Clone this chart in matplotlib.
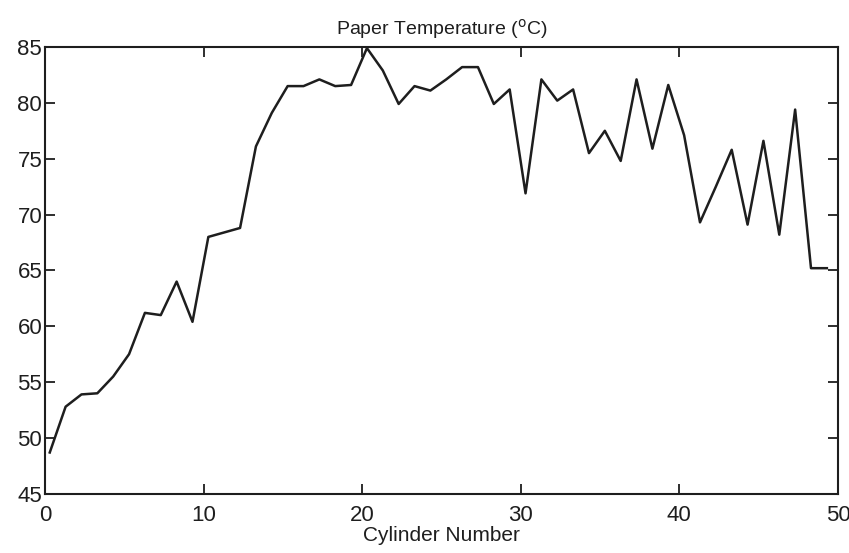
import matplotlib.pyplot as plt
import numpy as np

# paper temperature along the dryer section
cylinder = np.arange(50) + 0.3
temperature = [48.7, 52.8, 53.9, 54.0, 55.5, 57.5, 61.2, 61.0, 64.0, 60.4,
               68.0, 68.4, 68.8, 76.1, 79.1, 81.5, 81.5, 82.1, 81.5, 81.6,
               84.9, 82.9, 79.9, 81.5, 81.1, 82.1, 83.2, 83.2, 79.9, 81.2,
               71.9, 82.1, 80.2, 81.2, 75.5, 77.5, 74.8, 82.1, 75.9, 81.6,
               77.1, 69.3, 72.5, 75.8, 69.1, 76.6, 68.2, 79.4, 65.2, 65.2]
xticks = [0, 10, 20, 30, 40, 50]
yticks = [45, 50, 55, 60, 65, 70, 75, 80, 85]

plt.rcParams["font.family"] = ["Liberation Sans", "DejaVu Sans"]
my_dpi = 100
ink = "#1e1e1e"

fig = plt.figure(figsize=(849/my_dpi, 553/my_dpi), dpi=my_dpi)
ax = fig.add_axes([0.053, 0.107, 0.934, 0.808])
ax.plot(cylinder, temperature, color=ink, linewidth=1.8)

ax.set_xlim(0, 50)
ax.set_ylim(45, 85)
ax.set_xticks(xticks)
ax.set_yticks(yticks)
ax.tick_params(direction="in", top=True, right=True, length=7, width=1.3,
               labelsize=16, colors=ink)
ax.tick_params(axis="x", pad=8)
ax.tick_params(axis="y", pad=2)
for s in ax.spines.values():
    s.set_linewidth(1.5)
    s.set_color(ink)

ax.set_title("Paper Temperature ($^{\\rm o}$C)", fontsize=14, color=ink, pad=9)
ax.set_xlabel("Cylinder Number", fontsize=15, color=ink, labelpad=0)

fig.savefig("out.png", dpi=my_dpi)
